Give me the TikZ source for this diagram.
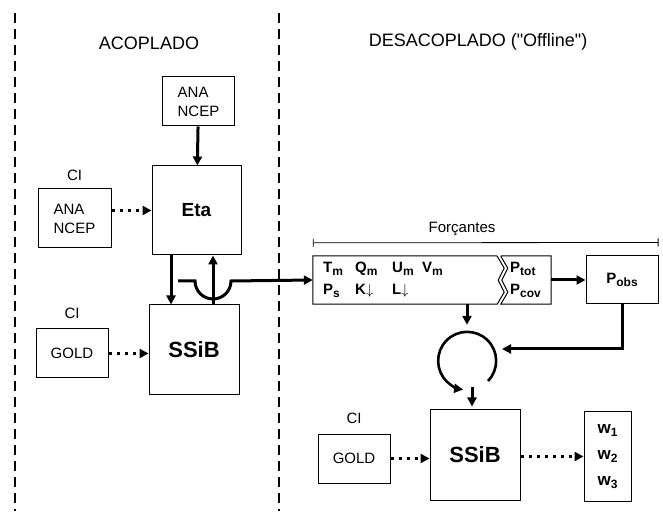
\documentclass[tikz,border=0pt]{standalone}
\usepackage{fontspec}
\setmainfont{Liberation Sans}
\newfontfamily\plainsans{Liberation Sans}
\usetikzlibrary{positioning, arrows.meta, calc}
\newcommand{\lowidx}[1]{\raisebox{-0.35ex}{\fontsize{12}{14}\selectfont #1}}
\tikzset{
  databox/.style={
    draw, line width=1pt,
    inner sep=0pt,
    minimum width=72pt,
    minimum height=49pt,
    align=left,
    font=\fontsize{15}{19}\selectfont
  },
  modelbox/.style={
    draw, line width=1pt,
    inner sep=0pt,
    minimum width=#1,
    minimum height=#1,
    font=\fontsize{22}{26}\selectfont\bfseries
  },
  cilabel/.style={
    inner sep=0pt,
    font=\fontsize{15}{18}\selectfont
  },
  heading/.style={
    inner sep=0pt,
    font=\fontsize{18}{22}\selectfont
  },
  varlabel/.style={
    inner sep=0pt,
    anchor=west,
    font=\fontsize{15}{18}\selectfont\bfseries
  },
  divider/.style={
    line width=2.8pt,
    dash pattern=on 10pt off 6pt
  },
  flowarrow/.style={
    -{Triangle[length=9pt,width=9pt]},
    line width=3pt
  },
  dotarrow/.style={
    -{Triangle[length=9pt,width=9pt]},
    line width=3pt,
    dash pattern=on 3.5pt off 4.5pt
  }
}

\begin{document}
\begin{tikzpicture}[x=1pt,y=1pt]
  \useasboundingbox (0,0) rectangle (663,511);

  % divisores
  \draw[divider] (15,498) -- (15,0);
  \draw[divider] (279,498) -- (279,0);
  \node[heading] (acop) at (149,468) {ACOPLADO};
  \node[heading, font=\fontsize{18}{22}\plainsans] (desacop) at (478,469) {DESACOPLADO ("Offline")};

  % modo acoplado
  \node[databox] (anatop) at (198.5,409.5) {ANA\\NCEP};
  \node[modelbox=89pt, font=\fontsize{19}{22}\selectfont\bfseries] (eta) at (196.5,300.5) {Eta};
  \node[databox, minimum width=73pt, minimum height=59pt] (anaci) at (74.5,292.5) {ANA\\NCEP};
  \node[cilabel, above=8pt of anaci] (cia) {CI};
  \node[modelbox=90pt] (ssiba) at (194,161) {SSiB};
  \node[databox] (golda) at (72,157.5) {GOLD};
  \node[cilabel, above=10pt of golda] (cib) {CI};
  \coordinate (hopstart) at (178,230);

  \draw[flowarrow] (anatop) -- (eta);
  \draw[dotarrow] (anaci.east |- eta) -- (eta.west);
  \draw[dotarrow] (golda.east) -- (golda.east -| ssiba.west);
  \draw[flowarrow] (eta.south -| 171,0) -- (ssiba.north -| 171,0);
  \draw[flowarrow] (ssiba.north -| 213,0) -- (eta.south -| 213,0);

  % modo desacoplado
  \node[inner sep=0pt, minimum width=184pt, minimum height=48pt] (forcl) at (405,231) {};
  \node[inner sep=0pt, minimum width=50pt, minimum height=48pt] (forcr) at (526,231) {};
  \draw[line width=1pt] (forcl.north east) -- (forcl.north west) -- (forcl.south west) -- (forcl.south east)
    -- ++(7,12) -- ++(-6,12) -- ++(6,12) -- ++(-7,12);
  \draw[line width=1pt] (forcr.north west) -- (forcr.north east) -- (forcr.south east) -- (forcr.south west)
    -- ++(7,12) -- ++(-6,12) -- ++(6,12) -- ++(-7,12);
  \node[varlabel] (tm) at (323,242) {T\lowidx{m}};
  \node[varlabel] (qm) at (355,242) {Q\lowidx{m}};
  \node[varlabel] (um) at (392,242) {U\lowidx{m}};
  \node[varlabel] (vm) at (422,242) {V\lowidx{m}};
  \node[varlabel] (ps) at (323,220) {P\lowidx{s}};
  \node[varlabel] (kd) at (355,220) {K$\downarrow$};
  \node[varlabel] (ld) at (392,220) {L$\downarrow$};
  \node[varlabel] (ptot) at (510,242) {P\lowidx{tot}};
  \node[varlabel] (pcov) at (510,220) {P\lowidx{cov}};
  \node[draw, line width=1pt, inner sep=0pt, minimum width=72pt, minimum height=48pt,
        font=\fontsize{15}{18}\selectfont\bfseries] (pobs) at (622,231) {P\lowidx{obs}};

  \draw[line width=0.8pt, {Bar[width=8pt]}-{Bar[width=8pt]}]
    ($(forcl.north west)+(0,13)$) -- ($(pobs.north east)+(0,13)$);
  \node[cilabel] (forclabel) at (462,282) {Forçantes};

  \draw[flowarrow] (hopstart) -- (195,230) arc (180:360:18) -- (forcl.west);
  \draw[flowarrow] (forcr.east) -- (pobs.west);

  \node[circle, inner sep=0pt, minimum size=58pt] (loop) at (467,150) {};
  \coordinate (loopin) at (502,162);
  \draw[flowarrow] (forcl.south -| loop) -- ($(loop.north)+(0,7)$);
  \draw[flowarrow] (pobs.south) |- (loopin);
  \draw[flowarrow, line width=2.6pt] (488,130) arc (-44:262:29);

  \node[modelbox=90pt] (ssibb) at (475,56) {SSiB};
  \node[databox] (goldb) at (354,52.5) {GOLD};
  \node[cilabel, above=10pt of goldb] (cic) {CI};
  \node[draw, line width=1pt, inner sep=0pt, minimum width=47pt, minimum height=89pt,
        align=center, font=\fontsize{17}{26}\selectfont\bfseries] (wout) at (607.5,54.5)
        {w\lowidx{1}\\w\lowidx{2}\\w\lowidx{3}};

  \draw[flowarrow] ($(ssibb.north)+(-3,22)$) -- ($(ssibb.north)+(-3,3)$);
  \draw[dotarrow] (goldb.east) -- (goldb.east -| ssibb.west);
  \draw[dotarrow] (ssibb.east |- wout) -- (wout.west);
\end{tikzpicture}
\end{document}
